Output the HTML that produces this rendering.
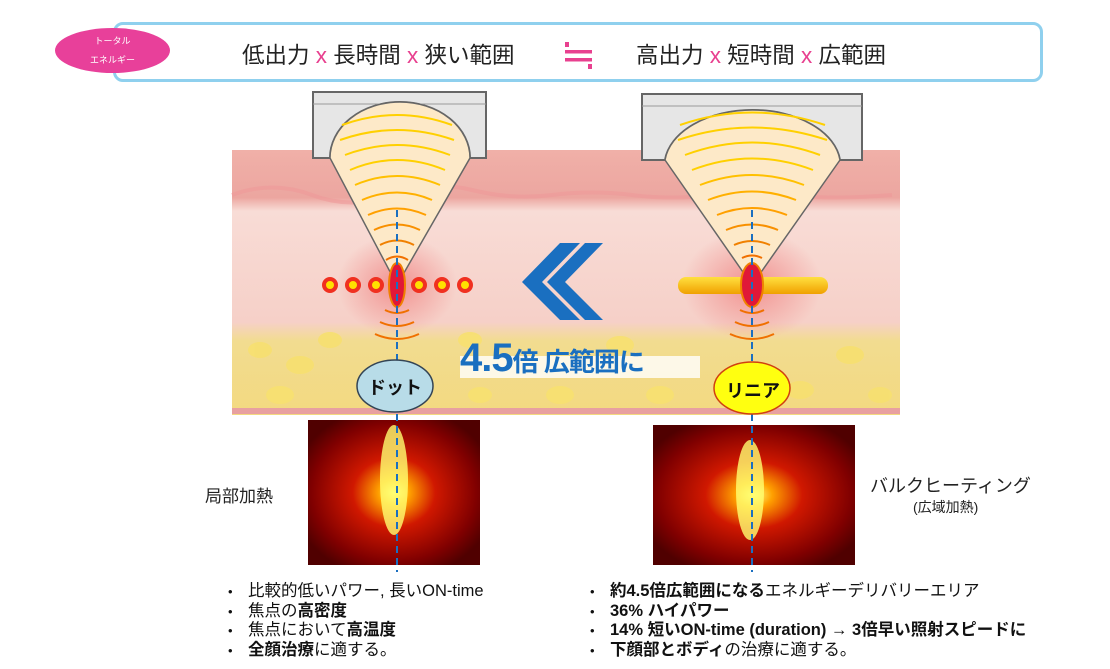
<!DOCTYPE html>
<html><head><meta charset="utf-8"><style>
body{margin:0;width:1110px;height:669px;background:#fff;overflow:hidden;font-family:"Liberation Sans","Noto Sans CJK JP",sans-serif;position:relative}
.a{position:absolute;white-space:nowrap}
.x{color:#e8408f}
ul{margin:0;padding:0;list-style:none}
li{height:19.5px;line-height:19.5px;font-size:16.5px;color:#111;position:relative;padding-left:20px}
li:before{content:"•";position:absolute;left:0;font-size:13px}
b{font-weight:bold}
</style></head><body>
<div class="a" style="left:113px;top:22px;width:924px;height:54px;border:3px solid #8fd0ee;border-radius:10px"></div>
<div class="a" style="left:55px;top:28px;width:115px;height:45px;border-radius:50%;background:#e8409a;color:#fff;font-size:9px;text-align:center;line-height:19px;padding-top:4px;box-sizing:border-box">トータル<br>エネルギー</div>
<div class="a" style="left:242px;top:38px;font-size:22.5px;color:#222">低出力 <span class="x">x</span> 長時間 <span class="x">x</span> 狭い範囲</div>
<div class="a" style="left:636px;top:38px;font-size:22.5px;color:#222">高出力 <span class="x">x</span> 短時間 <span class="x">x</span> 広範囲</div>

<svg class="a" style="left:0;top:0" width="1110" height="669">
<defs>
<linearGradient id="sk" x1="0" y1="0" x2="0" y2="1">
<stop offset="0" stop-color="#f0b0a8"/><stop offset="0.18" stop-color="#eca6a0"/><stop offset="0.23" stop-color="#f8dcd6"/><stop offset="0.65" stop-color="#f6d0c8"/><stop offset="0.72" stop-color="#f2dc90"/><stop offset="1" stop-color="#f3d980"/></linearGradient>
<radialGradient id="glow"><stop offset="0" stop-color="#f08080" stop-opacity=".8"/><stop offset="1" stop-color="#f08080" stop-opacity="0"/></radialGradient>
<radialGradient id="heat" cx=".5" cy=".5" r=".6"><stop offset="0" stop-color="#ffff80"/><stop offset=".15" stop-color="#ffa000"/><stop offset=".4" stop-color="#d01800"/><stop offset=".8" stop-color="#800000"/><stop offset="1" stop-color="#500000"/></radialGradient>
<linearGradient id="bar" x1="0" y1="0" x2="0" y2="1"><stop offset="0" stop-color="#ffe040"/><stop offset="1" stop-color="#f0a000"/></linearGradient>
</defs>
<!-- ≒ -->
<g fill="#e8408f"><rect x="565" y="50" width="27" height="3.5"/><rect x="565" y="58" width="27" height="3.5"/><rect x="565" y="42" width="4" height="5"/><rect x="588" y="64" width="4" height="5"/></g>
<rect x="232" y="150" width="668" height="265" fill="url(#sk)"/>
<path d="M232 195 q40 -15 80 0 t80 0 t80 -5 t80 5 t80 0 t80 0 t80 0 t100 0" fill="none" stroke="#e99" stroke-width="4" opacity=".6"/>
<g fill="#f7e070" opacity=".9">
<ellipse cx="260" cy="350" rx="12" ry="8"/><ellipse cx="300" cy="365" rx="14" ry="9"/><ellipse cx="470" cy="340" rx="12" ry="8"/><ellipse cx="620" cy="345" rx="14" ry="9"/><ellipse cx="850" cy="355" rx="14" ry="9"/><ellipse cx="800" cy="390" rx="14" ry="9"/><ellipse cx="280" cy="395" rx="14" ry="9"/><ellipse cx="560" cy="395" rx="14" ry="9"/><ellipse cx="330" cy="340" rx="12" ry="8"/><ellipse cx="660" cy="395" rx="14" ry="9"/><ellipse cx="880" cy="395" rx="12" ry="8"/><ellipse cx="480" cy="395" rx="12" ry="8"/></g>
<rect x="232" y="408" width="668" height="6" fill="#e8a0a0"/>
<ellipse cx="397" cy="285" rx="60" ry="50" fill="url(#glow)"/>
<ellipse cx="752" cy="285" rx="70" ry="55" fill="url(#glow)"/>
<g stroke="#666" stroke-width="2" fill="#e6e6e6">
<path d="M313 92 H486 V158 H470 A70 56 0 0 0 330 158 H313 Z"/>
<path d="M642 94 H862 V160 H840 A88 56 0 0 0 665 160 H642 Z"/>
</g>
<line x1="313" y1="104" x2="486" y2="104" stroke="#999"/><line x1="642" y1="106" x2="862" y2="106" stroke="#999"/>
<path d="M330 158 A70 56 0 0 1 470 158 L397 285 Z" fill="#fde9c8" stroke="#666" stroke-width="1.5"/>
<path d="M665 160 A88 56 0 0 1 840 160 L752 285 Z" fill="#fde9c8" stroke="#666" stroke-width="1.5"/>
<g fill="none" stroke-width="2">
<path d="M342 125 Q397 105 452 125" stroke="#ffd000"/><path d="M340 140 Q397 120 454 140" stroke="#ffd000"/><path d="M345 155 Q397 135 450 155" stroke="#ffd000"/><path d="M350 170 Q397 150 445 170" stroke="#ffd000"/><path d="M355 185 Q397 167 440 185" stroke="#ffc000"/><path d="M362 200 Q397 185 432 200" stroke="#ffb000"/><path d="M368 215 Q397 202 426 215" stroke="#ffa000"/><path d="M374 230 Q397 219 420 230" stroke="#f89000"/><path d="M380 245 Q397 236 414 245" stroke="#f08000"/><path d="M386 260 Q397 253 408 260" stroke="#f07000"/>
<path d="M680 125 Q752 100 825 125" stroke="#ffd000"/><path d="M678 140 Q752 115 827 140" stroke="#ffd000"/><path d="M685 155 Q752 130 820 155" stroke="#ffd000"/><path d="M692 170 Q752 147 813 170" stroke="#ffd000"/><path d="M700 185 Q752 165 804 185" stroke="#ffc000"/><path d="M708 200 Q752 183 796 200" stroke="#ffb000"/><path d="M717 215 Q752 201 787 215" stroke="#ffa000"/><path d="M726 230 Q752 219 778 230" stroke="#f89000"/><path d="M734 245 Q752 237 770 245" stroke="#f08000"/><path d="M742 258 Q752 253 762 258" stroke="#f07000"/>
<path d="M385 310 Q397 316 409 310" stroke="#f07000"/><path d="M380 322 Q397 330 414 322" stroke="#f07000"/><path d="M375 334 Q397 344 419 334" stroke="#f07000"/>
<path d="M740 310 Q752 316 764 310" stroke="#f07000"/><path d="M735 322 Q752 330 769 322" stroke="#f07000"/><path d="M730 334 Q752 344 774 334" stroke="#f07000"/>
</g>
<g fill="#ffe000" stroke="#f03020" stroke-width="4">
<circle cx="330" cy="285" r="6"/><circle cx="353" cy="285" r="6"/><circle cx="376" cy="285" r="6"/><circle cx="419" cy="285" r="6"/><circle cx="442" cy="285" r="6"/><circle cx="465" cy="285" r="6"/></g>
<rect x="678" y="277" width="150" height="17" rx="8" fill="url(#bar)"/>
<ellipse cx="397" cy="285" rx="8" ry="22" fill="#e01838" stroke="#f08000" stroke-width="2"/>
<ellipse cx="752" cy="285" rx="11" ry="22" fill="#e01838" stroke="#f08000" stroke-width="2"/>
<path d="M560 243 H580 L542 282 L580 320 H560 L522 282 Z" fill="#1a6fc0"/>
<path d="M585 243 H603 L565 282 L603 320 H585 L547 282 Z" fill="#1a6fc0"/>
<rect x="460" y="356" width="240" height="22" fill="#fff" opacity=".8"/>
<rect x="308" y="420" width="172" height="145" fill="url(#heat)"/>
<ellipse cx="394" cy="480" rx="14" ry="55" fill="#ffff70" opacity=".8"/>
<rect x="653" y="425" width="202" height="140" fill="url(#heat)"/>
<ellipse cx="750" cy="490" rx="14" ry="50" fill="#ffff70" opacity=".8"/>
<line x1="397" y1="210" x2="397" y2="572" stroke="#1a6fc0" stroke-width="2" stroke-dasharray="7 5"/>
<line x1="752" y1="210" x2="752" y2="572" stroke="#1a6fc0" stroke-width="2" stroke-dasharray="7 5"/>
<ellipse cx="395" cy="386" rx="38" ry="26" fill="#b8dce8" stroke="#345" stroke-width="1.5"/>
<ellipse cx="752" cy="388" rx="38" ry="26" fill="#ffff10" stroke="#d04010" stroke-width="1.5"/>
</svg>
<div class="a" style="left:460px;top:336px;font-size:40px;font-weight:bold;color:#1a6fc0;letter-spacing:-1px">4.5<span style="font-size:26px">倍 広範囲に</span></div>
<div class="a" style="left:368px;top:374px;font-size:18px;font-weight:bold;color:#111">ドット</div>
<div class="a" style="left:726px;top:377px;font-size:18px;font-weight:bold;color:#111">リニア</div>
<div class="a" style="left:205px;top:482px;font-size:17px;color:#222">局部加熱</div>
<div class="a" style="left:870px;top:472px;font-size:18px;color:#222">バルクヒーティング</div>
<div class="a" style="left:913px;top:497px;font-size:14px;color:#222">(広域加熱)</div>
<ul class="a" style="left:228px;top:582px">
<li>比較的低いパワー, 長いON-time</li><li>焦点の<b>高密度</b></li><li>焦点において<b>高温度</b></li><li><b>全顔治療</b>に適する。</li></ul>
<ul class="a" style="left:590px;top:582px">
<li><b>約4.5倍広範囲になる</b>エネルギーデリバリーエリア</li><li><b>36% ハイパワー</b></li><li><b>14% 短いON-time (duration) → 3倍早い照射スピードに</b></li><li><b>下顔部とボディ</b>の治療に適する。</li></ul>
</body></html>
